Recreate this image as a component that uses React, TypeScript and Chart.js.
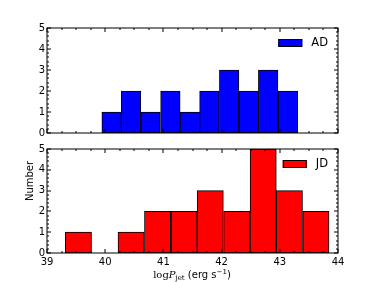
import React, { useEffect, useRef } from "react";
import { Chart, registerables } from "chart.js";

Chart.register(...registerables);

// Histogram bin edges (log P_jet) and counts
const adEdges = [39.94, 40.28, 40.61, 40.95, 41.29, 41.62, 41.96, 42.3, 42.63, 42.97, 43.31];
const adCounts = [1, 2, 1, 2, 1, 2, 3, 2, 3, 2];
const jdEdges = [39.31, 39.77, 40.22, 40.67, 41.13, 41.58, 42.03, 42.49, 42.94, 43.39, 43.85];
const jdCounts = [1, 0, 1, 2, 2, 3, 2, 5, 3, 2];
const xRange = [39, 44];
const yRange = [0, 5];

const FONT = "'DejaVu Sans', sans-serif";

const framePlugin = {
  id: "frameTicks",
  afterDatasetsDraw(chart: any) {
    const { ctx, chartArea: a, scales } = chart;
    const xs = scales.x;
    const ys = scales.y;
    ctx.save();
    ctx.strokeStyle = "#000";
    ctx.lineWidth = 1;
    ctx.beginPath();
    for (let i = 0; i <= (xRange[1] - xRange[0]) * 4; i++) {
      const v = xRange[0] + i * 0.25;
      const px = Math.round(xs.getPixelForValue(v));
      const L = i % 4 === 0 ? 4 : 2;
      ctx.moveTo(px, a.bottom);
      ctx.lineTo(px, a.bottom - L);
      ctx.moveTo(px, a.top);
      ctx.lineTo(px, a.top + L);
    }
    for (let i = 0; i <= (yRange[1] - yRange[0]) * 5; i++) {
      const v = yRange[0] + i * 0.2;
      const py = Math.round(ys.getPixelForValue(v));
      const L = i % 5 === 0 ? 4 : 2;
      ctx.moveTo(a.left, py);
      ctx.lineTo(a.left + L, py);
      ctx.moveTo(a.right, py);
      ctx.lineTo(a.right - L, py);
    }
    ctx.stroke();
    ctx.strokeRect(a.left, a.top, a.right - a.left, a.bottom - a.top);
    ctx.restore();
  },
};

const legendPlugin = {
  id: "innerLegend",
  afterDraw(chart: any) {
    const { ctx, chartArea: a } = chart;
    const ds = chart.data.datasets[0];
    ctx.save();
    ctx.font = `11.5px ${FONT}`;
    const tw = ctx.measureText(ds.label).width;
    const textRight = a.right - 10;
    const tx = textRight - tw;
    const boxRight = tx - 9;
    const boxLeft = boxRight - 24;
    const boxTop = a.top + 11;
    ctx.fillStyle = ds.backgroundColor;
    ctx.fillRect(boxLeft, boxTop, 24, 8);
    ctx.strokeStyle = "#000";
    ctx.lineWidth = 1;
    ctx.strokeRect(boxLeft + 0.5, boxTop + 0.5, 23, 7);
    ctx.fillStyle = "#000";
    ctx.textBaseline = "middle";
    ctx.textAlign = "left";
    ctx.fillText(ds.label, tx, boxTop + 4.5);
    ctx.restore();
  },
};

function makeChart(
  canvas: HTMLCanvasElement,
  edges: number[],
  counts: number[],
  label: string,
  color: string,
  showX: boolean
) {
  const data = counts.map((c, i) => ({ x: (edges[i] + edges[i + 1]) / 2, y: c }));
  return new Chart(canvas, {
    type: "bar",
    data: {
      datasets: [
        {
          label,
          data,
          backgroundColor: color,
          borderColor: "#000",
          borderWidth: 1,
          borderSkipped: false,
          barPercentage: 1,
          categoryPercentage: 1,
        },
      ],
    },
    plugins: [framePlugin, legendPlugin],
    options: {
      responsive: false,
      animation: false,
      events: [],
      layout: {
        padding: showX
          ? { top: 8, right: 38, bottom: 0, left: 0 }
          : { top: 28, right: 38, bottom: 8, left: 0 },
      },
      plugins: { legend: { display: false }, tooltip: { enabled: false } },
      scales: {
        x: {
          type: "linear",
          display: true,
          offset: false,
          min: xRange[0],
          max: xRange[1],
          grid: { display: false, drawTicks: false },
          border: { display: false },
          ticks: {
            display: showX,
            stepSize: 1,
            autoSkip: false,
            maxRotation: 0,
            padding: 3,
            color: "#000",
            font: { family: FONT, size: 10 },
          },
          afterFit: (s: any) => {
            s.height = showX ? 29 : 0;
          },
        },
        y: {
          type: "linear",
          min: yRange[0],
          max: yRange[1],
          grid: { display: false, drawTicks: false },
          border: { display: false },
          ticks: {
            stepSize: 1,
            padding: 2,
            color: "#000",
            font: { family: FONT, size: 10 },
          },
          afterFit: (s: any) => {
            s.width = 47;
          },
        },
      },
    },
  } as any);
}

export default function App() {
  const topRef = useRef<HTMLCanvasElement>(null);
  const botRef = useRef<HTMLCanvasElement>(null);

  useEffect(() => {
    const c1 = makeChart(topRef.current!, adEdges, adCounts, "AD", "#0000ff", false);
    const c2 = makeChart(botRef.current!, jdEdges, jdCounts, "JD", "#ff0000", true);
    return () => {
      c1.destroy();
      c2.destroy();
    };
  }, []);

  return (
    <div
      style={{
        position: "absolute",
        left: 0,
        top: 0,
        width: 376,
        height: 282,
        background: "#fff",
        fontFamily: FONT,
      }}
    >
      <canvas ref={topRef} width={376} height={141} style={{ position: "absolute", left: 0, top: 0 }} />
      <canvas ref={botRef} width={376} height={141} style={{ position: "absolute", left: 0, top: 141 }} />
      <div
        style={{
          position: "absolute",
          left: 30 - 40,
          top: 181 - 7,
          width: 80,
          height: 14,
          lineHeight: "14px",
          textAlign: "center",
          fontSize: 10,
          transform: "rotate(-90deg)",
          color: "#000",
        }}
      >
        Number
      </div>
      <div
        style={{
          position: "absolute",
          left: 192 - 80,
          top: 265,
          width: 160,
          height: 14,
          lineHeight: "14px",
          textAlign: "center",
          fontSize: 10,
          color: "#000",
          whiteSpace: "nowrap",
        }}
      >
        <span style={{ fontFamily: "'DejaVu Serif', serif" }}>log</span>
        <span style={{ fontFamily: "'DejaVu Serif', serif", fontStyle: "italic" }}>P</span>
        <sub style={{ fontFamily: "'DejaVu Serif', serif", fontSize: 7, verticalAlign: "-2px" }}>jet</sub>
        {" (erg s"}
        <sup style={{ fontSize: 7, verticalAlign: "4px" }}>−1</sup>
        {")"}
      </div>
    </div>
  );
}
